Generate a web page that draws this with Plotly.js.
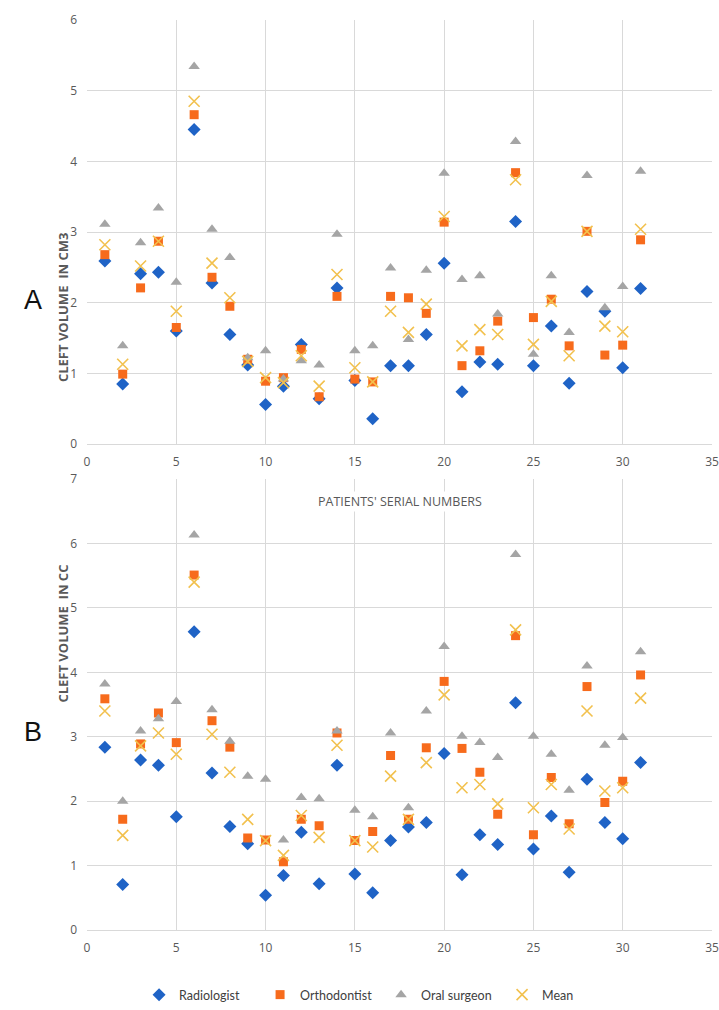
<!DOCTYPE html>
<html><head><meta charset="utf-8">
<script src="https://cdn.plot.ly/plotly-3.0.1.min.js"></script>
<style>body{margin:0;background:#fff}#c{width:719px;height:1010px}</style>
</head><body><div id="c"></div>
<script>
const patients = [1,2,3,4,5,6,7,8,9,10,11,12,13,14,15,16,17,18,19,20,21,22,23,24,25,26,27,28,29,30,31];
// Panel A (cm3)
const radA = [2.59,0.85,2.41,2.43,1.60,4.45,2.28,1.55,1.12,0.56,0.82,1.41,0.64,2.21,0.90,0.36,1.11,1.11,1.55,2.56,0.74,1.16,1.13,3.15,1.11,1.67,0.86,2.16,1.88,1.08,2.20];
const ortA = [2.68,0.99,2.21,2.87,1.65,4.66,2.36,1.95,1.20,0.89,0.94,1.34,0.67,2.09,0.92,0.88,2.09,2.07,1.85,3.14,1.11,1.32,1.74,3.84,1.79,2.05,1.39,3.01,1.26,1.40,2.89];
const oraA = [3.11,1.39,2.85,3.34,2.29,5.34,3.04,2.64,1.22,1.32,0.92,1.18,1.12,2.97,1.32,1.39,2.49,1.48,2.46,3.83,2.33,2.38,1.84,4.28,1.27,2.38,1.58,3.80,1.93,2.23,3.86];
const meanA = [2.82,1.13,2.52,2.87,1.88,4.85,2.56,2.07,1.17,0.94,0.87,1.25,0.82,2.40,1.08,0.88,1.88,1.58,1.98,3.22,1.39,1.62,1.55,3.74,1.41,2.02,1.25,3.01,1.67,1.59,3.04];
// Panel B (cc)
const radB = [2.84,0.71,2.64,2.56,1.76,4.63,2.44,1.61,1.34,0.54,0.85,1.52,0.72,2.56,0.87,0.58,1.39,1.60,1.67,2.74,0.86,1.48,1.33,3.53,1.26,1.77,0.90,2.34,1.67,1.42,2.60];
const ortB = [3.59,1.72,2.89,3.37,2.91,5.51,3.25,2.84,1.43,1.40,1.06,1.72,1.62,3.06,1.39,1.53,2.71,1.72,2.83,3.86,2.82,2.45,1.80,4.57,1.48,2.37,1.65,3.78,1.98,2.31,3.96];
const oraB = [3.82,2.00,3.09,3.28,3.55,6.13,3.42,2.93,2.39,2.34,1.40,2.06,2.04,3.09,1.86,1.76,3.06,1.90,3.40,4.40,3.01,2.91,2.68,5.83,3.01,2.73,2.17,4.10,2.87,2.99,4.32];
const meanB = [3.40,1.47,2.86,3.06,2.73,5.40,3.04,2.45,1.72,1.39,1.16,1.78,1.44,2.87,1.39,1.29,2.39,1.72,2.60,3.65,2.21,2.26,1.96,4.66,1.90,2.26,1.57,3.40,2.16,2.21,3.60];
const seriesNames = ['Radiologist','Orthodontist','Oral surgeon','Mean'];
const xTicks = [0,5,10,15,20,25,30,35];

const styles = [
  {symbol:'diamond', color:'#1F63C6', size:10},
  {symbol:'square', color:'#F76B1C', size:9},
  {symbol:'triangle-up', color:'#A5A5A5', size:10},
  {symbol:'x-thin-open', color:'#F2C14E', size:11}
];
const A = [radA, ortA, oraA, meanA];
const B = [radB, ortB, oraB, meanB];
const traces = [];
A.forEach((ys,i)=>{
  const s = styles[i];
  traces.push({x:patients, y:ys, type:'scatter', mode:'markers', name:seriesNames[i], xaxis:'x', yaxis:'y', showlegend:false,
    marker:{symbol:s.symbol, size:s.size, color:s.color, line:{color:s.color, width: s.symbol==='x-thin-open'?1.6:0}}});
});
B.forEach((ys,i)=>{
  const s = styles[i];
  traces.push({x:patients, y:ys, type:'scatter', mode:'markers', name:seriesNames[i], xaxis:'x2', yaxis:'y2', showlegend:true,
    marker:{symbol:s.symbol, size:s.size, color:s.color, line:{color:s.color, width: s.symbol==='x-thin-open'?1.6:0}}});
});
const tickFont = {family:'Open Sans, Liberation Sans, sans-serif', size:12, color:'#595959'};
const W=719, H=1010;
const xdom = [87/W, 712/W];
const axX = (anchor)=>({domain:xdom, range:[0,35], tickvals:xTicks, ticktext:xTicks.map(String), showgrid:true, gridcolor:'#D9D9D9', gridwidth:1,
  zeroline:false, showline:true, linecolor:'#D9D9D9', mirror:false, ticks:'', ticklabelstandoff:6, tickfont:tickFont, anchor:anchor, automargin:false});
const axY = (dom, top, anchor)=>({domain:dom, range:[0,top], dtick:1, showgrid:true, gridcolor:'#D9D9D9', zeroline:false, showline:false,
  ticks:'', ticklabelstandoff:9, tickfont:tickFont, anchor:anchor, automargin:false});
const legFont = {family:'Lato, Open Sans, sans-serif', size:12.5, color:'#404040'};
const layout = {
  width:W, height:H, margin:{l:0,r:0,t:0,b:0}, paper_bgcolor:'#fff', plot_bgcolor:'#fff',
  xaxis: axX('y'),
  yaxis: axY([1-445/H, 1-20/H], 6, 'x'),
  xaxis2: axX('y2'),
  yaxis2: axY([1-932/H, 1-480/H], 7, 'x2'),
  showlegend:true,
  legend:{orientation:'h', x:0.53, xanchor:'center', y:1-997/H, yanchor:'middle', font:legFont, itemwidth:30, entrywidth:76, entrywidthmode:'pixels'},
  annotations:[
    {text:'A', xref:'paper', yref:'paper', x:22/W, y:1-284/H, showarrow:false, font:{family:'Liberation Sans, sans-serif', size:27, color:'#111'}},
    {text:'B', xref:'paper', yref:'paper', x:22/W, y:1-750/H, showarrow:false, font:{family:'Liberation Sans, sans-serif', size:27, color:'#111'}},
    {text:'<b>CLEFT VOLUME  IN CM3</b>', xref:'paper', yref:'paper', x:52/W, y:1-232/H, textangle:-90, showarrow:false, font:{family:'Open Sans, sans-serif', size:13, color:'#595959'}},
    {text:'<b>CLEFT VOLUME  IN CC</b>', xref:'paper', yref:'paper', x:52/W, y:1-706/H, textangle:-90, showarrow:false, font:{family:'Open Sans, sans-serif', size:13, color:'#595959'}},
    {text:"PATIENTS' SERIAL NUMBERS", xref:'paper', yref:'paper', x:400/W, y:1-502/H, showarrow:false, bgcolor:'#fff', font:{family:'Open Sans, sans-serif', size:12.5, color:'#595959'}}
  ]
};
Plotly.newPlot('c', traces, layout, {displayModeBar:false, staticPlot:true});
</script></body></html>
